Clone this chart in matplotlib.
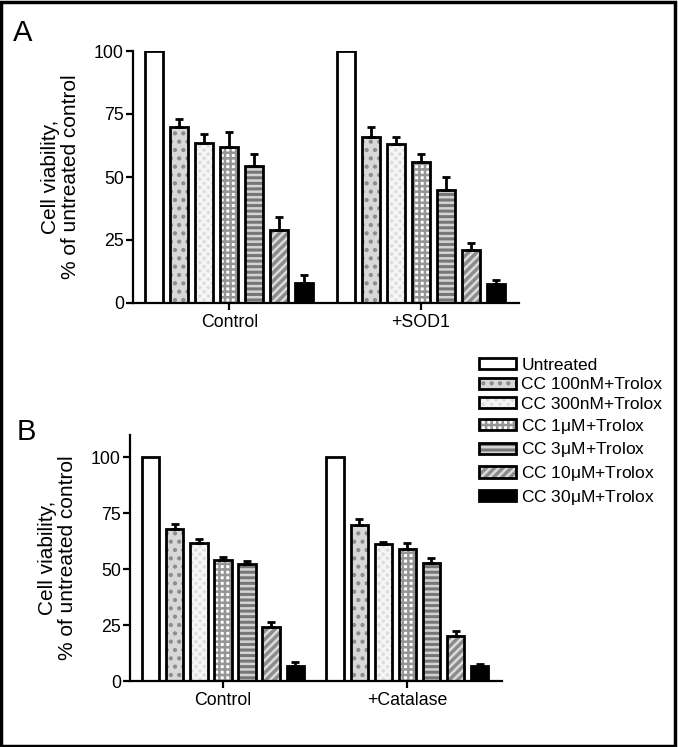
import numpy as np
import matplotlib
matplotlib.use("Agg")
from matplotlib import pyplot as plt
from matplotlib.patches import Rectangle
from matplotlib.legend_handler import HandlerTuple

# data
treatments = ["Untreated", "CC 100nM+Trolox", "CC 300nM+Trolox", r"CC 1$\mathregular{\mu}$M+Trolox",
              r"CC 3$\mathregular{\mu}$M+Trolox", r"CC 10$\mathregular{\mu}$M+Trolox",
              r"CC 30$\mathregular{\mu}$M+Trolox"]
groups_a = ["Control", "+SOD1"]
groups_b = ["Control", "+Catalase"]

a_control = [100, 69.8, 63.6, 62.0, 54.5, 29.0, 8.0]
a_control_err = [0, 3.2, 3.4, 6.0, 4.5, 5.0, 3.0]
a_sod1 = [100, 66.0, 63.0, 56.0, 45.0, 21.0, 7.5]
a_sod1_err = [0, 4.0, 3.0, 3.0, 5.0, 3.0, 1.5]

b_control = [100, 67.9, 61.8, 54.0, 52.2, 24.0, 6.8]
b_control_err = [0, 2.1, 1.5, 1.4, 1.5, 2.2, 1.5]
b_catalase = [100, 69.6, 61.2, 59.2, 52.8, 20.2, 6.7]
b_catalase_err = [0, 2.7, 1.0, 2.7, 2.0, 2.0, 0.7]

# styles: face colour, hatch, hatch colour
faces = ["white", "#d8d8d8", "#dedede", "white", "#777777", "#8c8c8c", "black"]
hatches = [None, "..", "xxxx", "+++", "---", "////", None]
hatch_cols = ["white", "#8c8c8c", "#f6f6f6", "#959595", "#d4d4d4", "#dcdcdc", "black"]

plt.rcParams["font.family"] = ["Liberation Sans", "DejaVu Sans"]
plt.rcParams["hatch.linewidth"] = 1.8
plt.rcParams["mathtext.fontset"] = "custom"
plt.rcParams["mathtext.rm"] = "Liberation Sans"

fig = plt.figure(figsize=(6.78, 7.47), dpi=100)
fig.patches.append(Rectangle((0.002, 0.002), 0.994, 0.995, transform=fig.transFigure,
                             fill=False, edgecolor="black", linewidth=2.5))

width = 0.72
gap = 7.66


def panel(ax, data, errs, glabels, ytop):
    handles = []
    for i in range(len(treatments)):
        xs = np.array([0, gap]) + i
        vals = [d[i] for d in data]
        ee = [e[i] for e in errs]
        b1 = ax.bar(xs, vals, width, color=faces[i], hatch=hatches[i],
                    edgecolor=hatch_cols[i], linewidth=0)
        b2 = ax.bar(xs, vals, width, fill=False, edgecolor="black", linewidth=2)
        if i > 0:
            ax.errorbar(xs, vals, yerr=[np.zeros(2), ee], fmt="none", ecolor="black",
                        elinewidth=2, capsize=3.2, capthick=2)
        handles.append((b1[0], b2[0]))
    ax.set_xlim(-0.86, gap + 6 + 0.93)
    ax.set_ylim(0, ytop)
    ax.set_yticks([0, 25, 50, 75, 100])
    ax.set_xticks([3, gap + 3])
    ax.set_xticklabels(glabels)
    for s in ["top", "right"]:
        ax.spines[s].set_visible(False)
    for s in ["left", "bottom"]:
        ax.spines[s].set_linewidth(1.6)
    ax.tick_params(axis="both", labelsize=12.8, width=1.6, length=5, pad=1.5)
    ax.tick_params(axis="x", pad=3)
    ax.set_ylabel("Cell viability,\n% of untreated control", fontsize=15, labelpad=10,
                  linespacing=1.1)
    return handles


ax1 = fig.add_axes([133 / 678, 1 - 303 / 747, (519 - 133) / 678, (303 - 51) / 747])
h = panel(ax1, [a_control, a_sod1], [a_control_err, a_sod1_err], groups_a, 100)

ax2 = fig.add_axes([130 / 678, 1 - 681 / 747, (502 - 130) / 678, (681 - 435) / 747])
panel(ax2, [b_control, b_catalase], [b_control_err, b_catalase_err], groups_b, 110)

fig.text(13 / 678, 1 - 41 / 747, "A", fontsize=21)
fig.text(17 / 678, 1 - 440 / 747, "B", fontsize=21)

fig.legend(h, treatments, handler_map={tuple: HandlerTuple(ndivide=1)},
           loc="upper left", bbox_to_anchor=(470 / 678, 1 - 349 / 747), frameon=False,
           fontsize=12.5, borderpad=0, handlelength=2.15, handleheight=0.6,
           labelspacing=0.27, handletextpad=0.3)

fig.savefig("out.png", dpi=100)
